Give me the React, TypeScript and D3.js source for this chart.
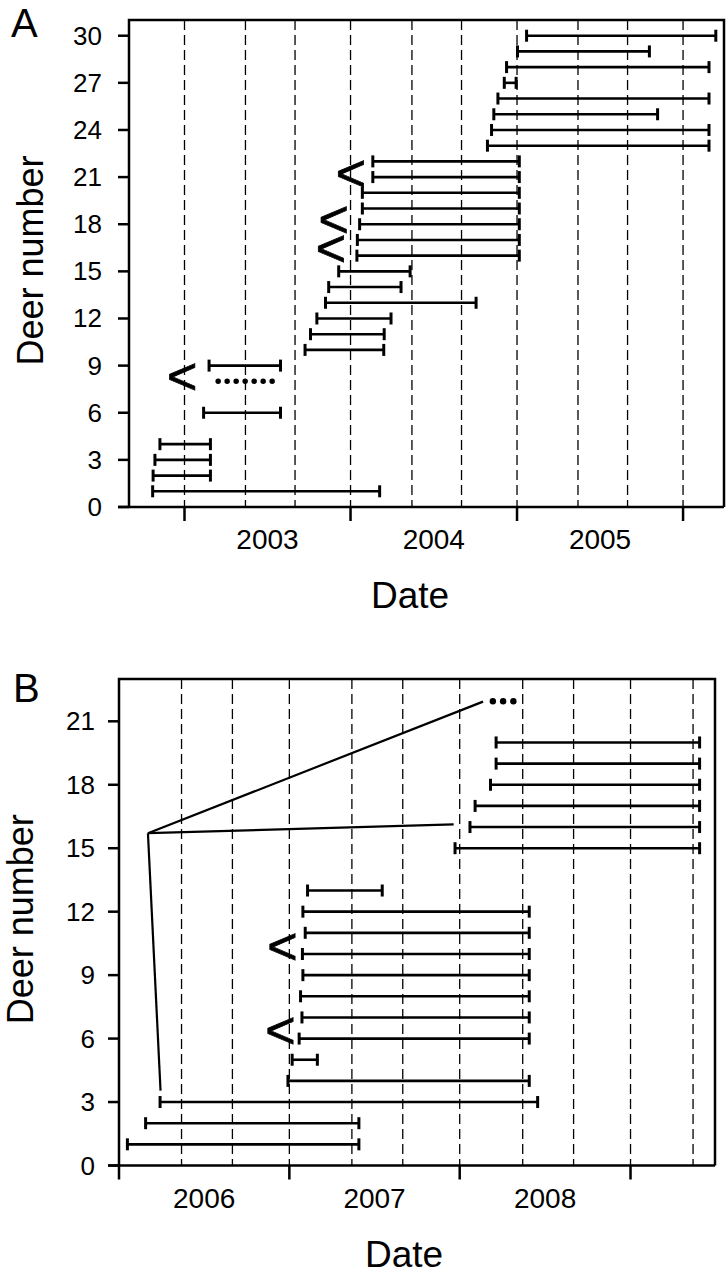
import * as d3 from "d3";

// ---- panel A data (deer monitored 2002-2006) ----
const deerA = [1, 2, 3, 4, 6, 8, 9, 10, 11, 12, 13, 14, 15, 16, 17, 18, 19, 20, 21, 22, 23, 24, 25, 26, 27, 28, 29, 30];
const startA = [
  "2002-10-23", "2002-10-24", "2002-10-28", "2002-11-08", "2003-02-12", "2003-03-16", "2003-02-24",
  "2003-09-23", "2003-10-05", "2003-10-19", "2003-11-07", "2003-11-14", "2003-12-06",
  "2004-01-15", "2004-01-16", "2004-01-21", "2004-01-27", "2004-01-27", "2004-02-19", "2004-02-19",
  "2004-10-28", "2004-11-06", "2004-11-11", "2004-11-20", "2004-12-04", "2004-12-09", "2005-01-02", "2005-01-22",
];
const endA = [
  "2004-03-05", "2003-02-27", "2003-02-27", "2003-02-27", "2003-07-31", "2003-07-31", "2003-07-31",
  "2004-03-14", "2004-03-15", "2004-03-30", "2004-10-03", "2004-04-21", "2004-05-11",
  "2005-01-06", "2005-01-06", "2005-01-06", "2005-01-06", "2005-01-06", "2005-01-06", "2005-01-06",
  "2006-02-27", "2006-02-27", "2005-11-06", "2006-02-27", "2004-12-30", "2006-02-27", "2005-10-19", "2006-03-14",
];
const dottedA = [8];
const markDeerA = [21.23, 18.31, 16.5, 8.33];
const markDateA = ["2004-01-02", "2003-11-25", "2003-11-19", "2002-12-27"];
const yearsA = [2003, 2004, 2005, 2006];
const labelYearsA = [2003, 2004, 2005];

// ---- panel B data (deer monitored 2006-2009) ----
const deerB = [1, 2, 3, 4, 5, 6, 7, 8, 9, 10, 11, 12, 13, 15, 16, 17, 18, 19, 20];
const startB = [
  "2006-01-19", "2006-02-27", "2006-03-30", "2006-12-29", "2007-01-07", "2007-01-22", "2007-01-28",
  "2007-01-25", "2007-01-30", "2007-01-29", "2007-02-04", "2007-01-30", "2007-02-09",
  "2007-12-22", "2008-01-23", "2008-02-03", "2008-03-07", "2008-03-19", "2008-03-19",
];
const endB = [
  "2007-05-30", "2007-05-30", "2008-06-16", "2008-05-29", "2007-03-02", "2008-05-29", "2008-05-29",
  "2008-05-29", "2008-05-29", "2008-05-29", "2008-05-29", "2008-05-29", "2007-07-19",
  "2009-05-29", "2009-05-29", "2009-05-29", "2009-05-29", "2009-05-29", "2009-05-29",
];
const markDeerB = [10.38, 6.4];
const markDateB = ["2006-12-17", "2006-12-13"];
const fanFromDateB = "2006-03-04";
const fanFromDeerB = 15.71;
const fanToDateB = ["2008-02-20", "2007-12-19", "2006-03-31"];
const fanToDeerB = [21.93, 16.13, 3.54];
const dotDateB = ["2008-03-12", "2008-04-03", "2008-04-25"];
const dotDeerB = 21.95;
const yearsB = [2006, 2007, 2008, 2009];
const labelYearsB = [2006, 2007, 2008];

const seasonStarts = ["01-01", "05-15", "09-01"];
const yTicks = [0, 3, 6, 9, 12, 15, 18, 21, 24, 27, 30];

const parse = d3.utcParse("%Y-%m-%d");
const FONT = "'Liberation Sans', Arial, Helvetica, sans-serif";

function Panel({
  letter, letterX, left, right, top, bottom, yMax, domain, years, labelYears, deer, starts, ends,
  dotted = [], markDeer, markDate, tickLabelX, letterY, titleX, dateX, children,
}: any) {
  const x = d3.scaleUtc(domain.map(parse), [left, right]);
  const y = d3.scaleLinear([0, yMax], [bottom, top]);
  const [d0, d1] = x.domain();
  const seasonLines: Date[] = [];
  for (let yr = d0.getUTCFullYear(); yr <= d1.getUTCFullYear(); yr++) {
    seasonStarts.forEach((s) => {
      const d = parse(`${yr}-${s}`)!;
      if (d > d0 && d < d1) seasonLines.push(d);
    });
  }
  const cap = 6;
  return (
    <g fontFamily={FONT} fill="black">
      <text x={letterX} y={letterY} fontSize={40}>{letter}</text>
      {/* dashed season lines */}
      {seasonLines.map((d, i) => (
        <line key={i} x1={x(d)} x2={x(d)} y1={top} y2={bottom} stroke="black" strokeWidth={1.3} strokeDasharray="10,5" />
      ))}
      {/* frame */}
      <path d={`M${left},${bottom}V${top}H${right}V${bottom}`} fill="none" stroke="black" strokeWidth={2.5} />
      <line x1={left - 11} x2={right} y1={bottom} y2={bottom} stroke="black" strokeWidth={2.5} />
      {/* y axis */}
      {yTicks.filter((t) => t <= yMax).map((t) => (
        <g key={t}>
          <line x1={left - 11} x2={left} y1={y(t)} y2={y(t)} stroke="black" strokeWidth={2.5} />
          <text x={tickLabelX} y={y(t)} fontSize={26} textAnchor="end" dominantBaseline="central">{t}</text>
        </g>
      ))}
      {/* x axis */}
      {years.map((yr: number) => {
        const xx = x(parse(`${yr}-01-01`)!);
        return <line key={yr} x1={xx} x2={xx} y1={bottom} y2={bottom + 14} stroke="black" strokeWidth={2.5} />;
      })}
      {labelYears.map((yr: number) => {
        const xx = (x(parse(`${yr}-01-01`)!) + x(parse(`${yr + 1}-01-01`)!)) / 2;
        return <text key={yr} x={xx} y={bottom + 42} fontSize={28} textAnchor="middle">{yr}</text>;
      })}
      <text x={dateX} y={bottom + 101} fontSize={37} textAnchor="middle">Date</text>
      <text transform={`translate(${titleX},${(top + bottom) / 2 - 3}) rotate(-90)`} fontSize={36} textAnchor="middle">Deer number</text>
      {/* monitoring intervals */}
      {deer.map((n: number, i: number) => {
        const x0 = x(parse(starts[i])!);
        const x1 = x(parse(ends[i])!);
        const yy = y(n);
        if (dotted.includes(n)) {
          return (
            <line key={n} x1={x0} x2={x1} y1={yy} y2={yy} stroke="black" strokeWidth={5.5} strokeLinecap="round" strokeDasharray="0,9" />
          );
        }
        return (
          <g key={n} stroke="black">
            <line x1={x0} x2={x1} y1={yy} y2={yy} strokeWidth={2.6} />
            <line x1={x0} x2={x0} y1={yy - cap} y2={yy + cap} strokeWidth={3} />
            <line x1={x1} x2={x1} y1={yy - cap} y2={yy + cap} strokeWidth={3} />
          </g>
        );
      })}
      {markDeer.map((n: number, i: number) => (
        <text key={i} x={x(parse(markDate[i])!)} y={y(n)} fontSize={52} textAnchor="middle" dominantBaseline="central" stroke="black" strokeWidth={0.8}>&lt;</text>
      ))}
      {children && children(x, y)}
    </g>
  );
}

export default function App() {
  return (
    <svg width={726} height={1280} style={{ position: "absolute", left: 0, top: 0, background: "white" }}>
      <rect width={726} height={1280} fill="white" />
      <Panel
        letter="A" letterX={11} left={129} right={724} top={20} bottom={507} yMax={31}
        domain={["2002-09-01", "2006-04-01"]} years={yearsA} labelYears={labelYearsA}
        deer={deerA} starts={startA} ends={endA} dotted={dottedA}
        markDeer={markDeerA} markDate={markDateA} tickLabelX={102} letterY={37} titleX={43} dateX={410}
      />
      <Panel
        letter="B" letterX={13} left={119} right={715} top={679} bottom={1165.5} yMax={23}
        domain={["2006-01-01", "2009-07-01"]} years={yearsB} labelYears={labelYearsB}
        deer={deerB} starts={startB} ends={endB}
        markDeer={markDeerB} markDate={markDateB} tickLabelX={95} letterY={702} titleX={33} dateX={404}
      >
        {(x: any, y: any) => (
          <g>
            {fanToDateB.map((d, i) => (
              <line key={i} x1={x(parse(fanFromDateB))} y1={y(fanFromDeerB)} x2={x(parse(d))} y2={y(fanToDeerB[i])} stroke="black" strokeWidth={2.2} />
            ))}
            {dotDateB.map((d, i) => (
              <circle key={i} cx={x(parse(d))} cy={y(dotDeerB)} r={3.2} fill="black" />
            ))}
          </g>
        )}
      </Panel>
    </svg>
  );
}
